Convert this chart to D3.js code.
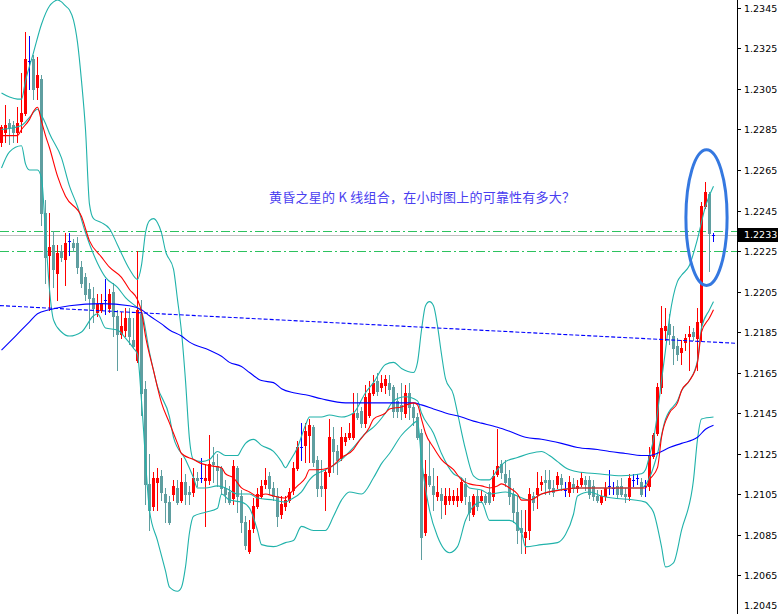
<!DOCTYPE html>
<html><head><meta charset="utf-8">
<script src="https://cdn.jsdelivr.net/npm/d3@7"></script>
<style>body{margin:0;background:#fff}svg{display:block}</style>
</head><body><svg id="c" width="778" height="614"></svg>
<script>
// ---- DATA ----
// [open, high, low, close] per hourly bar
const ohlc = [
[1.2279,1.2287,1.2277,1.2286],[1.2284,1.2297,1.2279,1.2287],[1.2288,1.2290,1.2278,1.2286],[1.2287,1.2289,1.2279,1.2284],
[1.2284,1.2296,1.2279,1.2288],[1.2289,1.2313,1.2284,1.2293],[1.2293,1.2333,1.2292,1.2320],[1.2319,1.2331,1.2305,1.2319],
[1.2320,1.2322,1.2300,1.2305],[1.2306,1.2321,1.2300,1.2312],[1.2310,1.2312,1.2238,1.2244],[1.2244,1.2250,1.2209,1.2222],
[1.2223,1.2244,1.2196,1.2227],[1.2228,1.2235,1.2207,1.2216],[1.2214,1.2228,1.2201,1.2224],[1.2225,1.2228,1.2220,1.2222],
[1.2221,1.2234,1.2208,1.2229],[1.2230,1.2234,1.2223,1.2230],[1.2229,1.2231,1.2225,1.2227],[1.2229,1.2232,1.2214,1.2217],
[1.2217,1.2220,1.2207,1.2209],[1.2212,1.2214,1.2201,1.2204],[1.2206,1.2209,1.2187,1.2202],[1.2202,1.2207,1.2190,1.2197],
[1.2195,1.2204,1.2193,1.2199],[1.2196,1.2204,1.2195,1.2199],[1.2201,1.2211,1.2194,1.2201],[1.2197,1.2206,1.2195,1.2204],
[1.2205,1.2209,1.2183,1.2193],[1.2193,1.2196,1.2166,1.2184],[1.2184,1.2195,1.2182,1.2188],[1.2186,1.2197,1.2183,1.2192],
[1.2192,1.2197,1.2179,1.2183],[1.2181,1.2192,1.2177,1.2178],[1.2171,1.2225,1.2170,1.2196],[1.2194,1.2201,1.2144,1.2155],
[1.2157,1.2161,1.2100,1.2110],[1.2110,1.2125,1.2087,1.2097],[1.2099,1.2116,1.2097,1.2113],[1.2111,1.2118,1.2097,1.2113],
[1.2114,1.2117,1.2102,1.2106],[1.2105,1.2108,1.2091,1.2101],[1.2101,1.2104,1.2090,1.2091],[1.2105,1.2112,1.2102,1.2109],
[1.2108,1.2112,1.2100,1.2101],[1.2102,1.2123,1.2101,1.2111],[1.2111,1.2115,1.2100,1.2105],[1.2106,1.2109,1.2100,1.2105],
[1.2106,1.2118,1.2104,1.2113],[1.2113,1.2116,1.2109,1.2112],[1.2113,1.2123,1.2111,1.2113],[1.2112,1.2120,1.2089,1.2113],
[1.2112,1.2134,1.2110,1.2120],[1.2121,1.2128,1.2111,1.2120],[1.2119,1.2125,1.2109,1.2117],[1.2118,1.2119,1.2105,1.2108],
[1.2108,1.2112,1.2101,1.2105],[1.2106,1.2109,1.2100,1.2101],[1.2103,1.2122,1.2100,1.2119],[1.2118,1.2119,1.2096,1.2104],
[1.2104,1.2107,1.2086,1.2091],[1.2091,1.2094,1.2078,1.2080],[1.2077,1.2092,1.2076,1.2087],[1.2088,1.2103,1.2086,1.2099],
[1.2099,1.2108,1.2098,1.2105],[1.2104,1.2112,1.2103,1.2109],[1.2110,1.2118,1.2108,1.2112],[1.2114,1.2116,1.2105,1.2108],
[1.2108,1.2111,1.2102,1.2104],[1.2104,1.2108,1.2089,1.2094],[1.2095,1.2104,1.2093,1.2100],[1.2099,1.2104,1.2097,1.2102],
[1.2102,1.2108,1.2101,1.2106],[1.2107,1.2121,1.2105,1.2118],[1.2118,1.2131,1.2117,1.2128],[1.2128,1.2140,1.2122,1.2128],
[1.2129,1.2140,1.2121,1.2136],[1.2134,1.2142,1.2121,1.2139],[1.2138,1.2139,1.2119,1.2121],[1.2122,1.2124,1.2104,1.2108],
[1.2109,1.2122,1.2104,1.2108],[1.2108,1.2117,1.2097,1.2116],[1.2116,1.2142,1.2114,1.2133],[1.2132,1.2138,1.2116,1.2126],
[1.2126,1.2129,1.2115,1.2122],[1.2123,1.2138,1.2122,1.2133],[1.2131,1.2135,1.2129,1.2133],[1.2133,1.2140,1.2132,1.2135],
[1.2133,1.2155,1.2132,1.2145],[1.2145,1.2155,1.2142,1.2143],[1.2146,1.2148,1.2138,1.2140],[1.2140,1.2159,1.2138,1.2153],
[1.2144,1.2161,1.2143,1.2155],[1.2155,1.2164,1.2154,1.2160],[1.2161,1.2165,1.2154,1.2156],[1.2158,1.2164,1.2156,1.2160],
[1.2159,1.2164,1.2155,1.2162],[1.2160,1.2164,1.2154,1.2157],[1.2158,1.2159,1.2143,1.2146],[1.2151,1.2155,1.2143,1.2146],
[1.2149,1.2160,1.2142,1.2146],[1.2145,1.2159,1.2143,1.2155],[1.2155,1.2160,1.2142,1.2148],[1.2148,1.2150,1.2139,1.2143],
[1.2143,1.2145,1.2132,1.2133],[1.2135,1.2137,1.2073,1.2084],[1.2086,1.2122,1.2085,1.2115],[1.2114,1.2131,1.2109,1.2110],
[1.2109,1.2118,1.2097,1.2105],[1.2104,1.2114,1.2102,1.2106],[1.2105,1.2108,1.2093,1.2102],[1.2100,1.2108,1.2095,1.2104],
[1.2102,1.2108,1.2100,1.2104],[1.2102,1.2107,1.2100,1.2104],[1.2102,1.2108,1.2099,1.2104],[1.2102,1.2113,1.2101,1.2111],
[1.2110,1.2113,1.2100,1.2104],[1.2101,1.2104,1.2092,1.2096],[1.2095,1.2105,1.2094,1.2104],[1.2104,1.2107,1.2097,1.2099],
[1.2102,1.2107,1.2101,1.2104],[1.2104,1.2105,1.2100,1.2101],[1.2106,1.2110,1.2100,1.2101],[1.2104,1.2117,1.2102,1.2114],
[1.2115,1.2137,1.2114,1.2119],[1.2120,1.2122,1.2113,1.2116],[1.2115,1.2122,1.2109,1.2111],[1.2113,1.2117,1.2100,1.2104],
[1.2105,1.2108,1.2091,1.2096],[1.2096,1.2104,1.2081,1.2087],[1.2088,1.2097,1.2076,1.2086],[1.2084,1.2097,1.2076,1.2086],
[1.2087,1.2108,1.2083,1.2105],[1.2104,1.2106,1.2097,1.2101],[1.2105,1.2116,1.2098,1.2108],[1.2110,1.2114,1.2107,1.2111],
[1.2112,1.2117,1.2105,1.2111],[1.2112,1.2117,1.2105,1.2108],[1.2108,1.2112,1.2104,1.2106],[1.2110,1.2116,1.2108,1.2114],
[1.2113,1.2115,1.2107,1.2110],[1.2107,1.2111,1.2104,1.2107],[1.2106,1.2114,1.2104,1.2111],[1.2110,1.2113,1.2106,1.2108],
[1.2108,1.2112,1.2106,1.2109],[1.2110,1.2116,1.2109,1.2113],[1.2112,1.2114,1.2107,1.2110],[1.2112,1.2114,1.2103,1.2105],
[1.2109,1.2112,1.2102,1.2104],[1.2104,1.2107,1.2101,1.2102],[1.2101,1.2107,1.2100,1.2104],[1.2104,1.2111,1.2102,1.2108],
[1.2109,1.2117,1.2105,1.2109],[1.2108,1.2111,1.2105,1.2108],[1.2109,1.2112,1.2103,1.2105],[1.2109,1.2113,1.2104,1.2105],
[1.2105,1.2108,1.2101,1.2104],[1.2104,1.2115,1.2102,1.2113],[1.2112,1.2115,1.2109,1.2112],[1.2113,1.2115,1.2110,1.2113],
[1.2111,1.2113,1.2104,1.2105],[1.2109,1.2112,1.2104,1.2109],[1.2109,1.2128,1.2107,1.2124],[1.2124,1.2135,1.2123,1.2134],
[1.2135,1.2160,1.2134,1.2158],[1.2158,1.2198,1.2155,1.2187],[1.2186,1.2197,1.2181,1.2188],[1.2189,1.2194,1.2179,1.2184],
[1.2183,1.2188,1.2169,1.2177],[1.2178,1.2182,1.2171,1.2174],[1.2175,1.2181,1.2169,1.2177],[1.2180,1.2184,1.2176,1.2182],
[1.2183,1.2188,1.2166,1.2184],[1.2185,1.2187,1.2181,1.2183],[1.2182,1.2197,1.2166,1.2190],[1.2190,1.2249,1.2181,1.2247],
[1.2247,1.2259,1.2246,1.2254],[1.2253,1.2254,1.2215,1.2234],[1.2233,1.2234,1.2230,1.2233]
];

// indicator readings: [bar index, price]
const bbUpper = [[0,1.2303],[2,1.2301],[4,1.2300],[5,1.2300],[6,1.2309],[8,1.2323],[10,1.2337],[12,1.2346],[13,1.2348],[14,1.2349],[15,1.2348],[16,1.2346],[17,1.2344],[18,1.2339],[19,1.2328],[20,1.2309],[21,1.2285],[22,1.2248],[23,1.2241],[25,1.2239],[27,1.2236],[29,1.2228],[32,1.2216],[34,1.2211],[35,1.2218],[36,1.2234],[37,1.2240],[38,1.2241],[39,1.2239],[40,1.2234],[41,1.2225],[43,1.2216],[44,1.2201],[45,1.2185],[46,1.2161],[47,1.2132],[48,1.2122],[50,1.2121],[52,1.2122],[54,1.2126],[56,1.2124],[59,1.2124],[60,1.2127],[61,1.2130],[63,1.2132],[65,1.2129],[68,1.2126],[70,1.2121],[71,1.2118],[72,1.2121],[74,1.2128],[76,1.2139],[77,1.2143],[80,1.2143],[82,1.2144],[85,1.2143],[88,1.2145],[91,1.2155],[93,1.2160],[96,1.2169],[98,1.2170],[100,1.2167],[103,1.2165],[104,1.2170],[105,1.2186],[106,1.2198],[107,1.2200],[108,1.2198],[109,1.2188],[110,1.2174],[111,1.2162],[113,1.2154],[114,1.2145],[116,1.2127],[118,1.2114],[120,1.2112],[122,1.2112],[124,1.2117],[126,1.2121],[129,1.2123],[132,1.2125],[135,1.2126],[137,1.2124],[139,1.2121],[141,1.2118],[144,1.2116],[149,1.2115],[155,1.2114],[160,1.2115],[161,1.2117],[162,1.2124],[163,1.2132],[164,1.2145],[165,1.2161],[166,1.2176],[167,1.2192],[169,1.2210],[170,1.2213],[172,1.2218],[174,1.2231],[176,1.2247],[178,1.2257]];
const bbMiddle = [[0,1.2285],[5,1.2287],[7,1.2291],[9,1.2295],[10,1.2292],[11,1.2288],[12,1.2283],[15,1.2271],[17,1.2257],[19,1.2247],[21,1.2234],[24,1.2219],[26,1.2212],[29,1.2207],[31,1.2202],[34,1.2197],[35,1.2195],[37,1.2175],[39,1.2158],[42,1.2143],[43,1.2133],[46,1.2122],[48,1.2113],[49,1.2108],[51,1.2108],[54,1.2109],[56,1.2108],[59,1.2105],[62,1.2105],[64,1.2103],[68,1.2102],[71,1.2101],[72,1.2102],[75,1.2106],[77,1.2112],[78,1.2114],[81,1.2117],[85,1.2122],[88,1.2128],[91,1.2135],[93,1.2138],[96,1.2145],[98,1.2151],[101,1.2153],[104,1.2151],[105,1.2145],[108,1.2135],[110,1.2125],[113,1.2115],[115,1.2113],[117,1.2108],[120,1.2107],[122,1.2105],[126,1.2106],[129,1.2104],[132,1.2102],[135,1.2105],[144,1.2108],[160,1.2108],[162,1.2113],[164,1.2125],[166,1.2142],[167,1.2146],[169,1.2151],[170,1.2156],[172,1.2161],[174,1.2171],[175,1.2187],[177,1.2196],[178,1.2200]];
const bbLower = [[0,1.2266],[2,1.2274],[5,1.2277],[6,1.2268],[7,1.2265],[9,1.2265],[10,1.2261],[11,1.2234],[12,1.2206],[13,1.2191],[15,1.2185],[17,1.2183],[20,1.2185],[23,1.2193],[24,1.2194],[26,1.2187],[29,1.2186],[31,1.2182],[33,1.2177],[34,1.2174],[35,1.2151],[37,1.2097],[39,1.2082],[41,1.2067],[42,1.2059],[44,1.2057],[45,1.2059],[46,1.2069],[47,1.2086],[48,1.2094],[51,1.2096],[54,1.2098],[55,1.2105],[57,1.2102],[60,1.2101],[62,1.2098],[64,1.2087],[65,1.2080],[68,1.2079],[71,1.2081],[73,1.2082],[75,1.2089],[78,1.2087],[81,1.2087],[83,1.2094],[85,1.2102],[87,1.2106],[90,1.2105],[93,1.2113],[95,1.2120],[97,1.2125],[100,1.2134],[102,1.2138],[104,1.2141],[105,1.2122],[107,1.2097],[109,1.2084],[112,1.2076],[114,1.2079],[116,1.2092],[118,1.2099],[120,1.2101],[122,1.2092],[127,1.2092],[130,1.2086],[131,1.2079],[135,1.2080],[139,1.2081],[141,1.2085],[143,1.2095],[144,1.2104],[147,1.2106],[150,1.2104],[161,1.2101],[162,1.2099],[163,1.2096],[165,1.2079],[166,1.2069],[168,1.2071],[170,1.2087],[173,1.2112],[174,1.2132],[175,1.2142],[178,1.2143]];
const maFast = [[0,1.2282],[4,1.2282],[5,1.2285],[7,1.2290],[8,1.2294],[9,1.2296],[10,1.2289],[11,1.2282],[12,1.2276],[14,1.2262],[16,1.2252],[20,1.2242],[22,1.2230],[25,1.2222],[27,1.2217],[30,1.2212],[32,1.2206],[34,1.2201],[35,1.2195],[36,1.2183],[38,1.2166],[40,1.2150],[42,1.2140],[44,1.2130],[45,1.2125],[48,1.2122],[50,1.2120],[52,1.2119],[55,1.2118],[56,1.2115],[58,1.2113],[60,1.2108],[62,1.2106],[64,1.2104],[66,1.2105],[68,1.2104],[71,1.2103],[72,1.2105],[74,1.2109],[76,1.2113],[77,1.2117],[79,1.2117],[82,1.2118],[85,1.2123],[88,1.2127],[89,1.2130],[92,1.2138],[93,1.2142],[96,1.2145],[97,1.2147],[100,1.2148],[103,1.2150],[104,1.2149],[105,1.2142],[106,1.2135],[108,1.2128],[110,1.2122],[113,1.2117],[115,1.2112],[117,1.2110],[120,1.2109],[122,1.2108],[124,1.2109],[125,1.2110],[127,1.2108],[129,1.2105],[130,1.2102],[132,1.2102],[135,1.2105],[140,1.2107],[144,1.2108],[148,1.2108],[160,1.2108],[161,1.2108],[162,1.2112],[164,1.2118],[165,1.2133],[167,1.2145],[169,1.2150],[170,1.2156],[172,1.2161],[174,1.2170],[175,1.2185],[177,1.2192],[178,1.2196]];
const maSlow = [[0,1.2176],[2,1.2180],[5,1.2186],[7,1.2190],[9,1.2194],[12,1.2196],[17,1.2198],[25,1.2199],[32,1.2198],[35,1.2196],[37,1.2193],[40,1.2189],[42,1.2186],[45,1.2183],[47,1.2180],[52,1.2176],[55,1.2173],[57,1.2170],[60,1.2168],[62,1.2165],[65,1.2161],[68,1.2160],[70,1.2157],[73,1.2155],[76,1.2154],[80,1.2152],[86,1.2150],[92,1.2150],[103,1.2150],[105,1.2149],[108,1.2147],[111,1.2145],[115,1.2143],[118,1.2141],[120,1.2140],[124,1.2138],[127,1.2136],[131,1.2133],[135,1.2132],[140,1.2130],[144,1.2128],[149,1.2127],[152,1.2126],[156,1.2125],[160,1.2124],[162,1.2124],[165,1.2126],[167,1.2128],[170,1.2130],[174,1.2133],[176,1.2137],[178,1.2139]];

const trendLine = [[0,1.2198],[178,1.2180]];
const levelLines = [1.2235, 1.2225];
const lastPrice = 1.2233;
const yTickLabels = ["1.2045","1.2065","1.2085","1.2105","1.2125","1.2145","1.2165","1.2185","1.2205","1.2225","1.2245","1.2265","1.2285","1.2305","1.2325","1.2345"];
const noteText = "黄昏之星的 K 线组合，在小时图上的可靠性有多大？";
const noteAnchor = [66.9, 1.2249];
const ellipseBars = [171.1, 181.4];
const ellipsePrices = [1.2208, 1.2275];

// ---- CHART ----
const W = 778, H = 614, axisX = 737;
const svg = d3.select("#c");
const x = d3.scaleLinear().domain([0, 178]).range([1.5, 713.5]);
const y = d3.scaleLinear().domain([1.2045, 1.2345]).range([615.5, 8]);

svg.append("rect").attr("width", W).attr("height", H).attr("fill", "#fff");
svg.append("defs").append("clipPath").attr("id", "plot")
  .append("rect").attr("x", 0).attr("y", 0).attr("width", axisX).attr("height", H);
const g = svg.append("g").attr("clip-path", "url(#plot)");

// horizontal levels (behind)
const hg = g.append("g").attr("shape-rendering", "crispEdges");
levelLines.forEach(p => hg.append("line").attr("x1", 0).attr("x2", axisX)
  .attr("y1", Math.round(y(p)) + 0.5).attr("y2", Math.round(y(p)) + 0.5)
  .attr("stroke", "#2dc25f").attr("stroke-width", 1).attr("stroke-dasharray", "9,3,2,3"));
hg.append("line").attr("x1", 0).attr("x2", axisX)
  .attr("y1", Math.round(y(lastPrice)) + 0.5).attr("y2", Math.round(y(lastPrice)) + 0.5)
  .attr("stroke", "#c0c0c0").attr("stroke-width", 1);

// candles
const cg = g.append("g").attr("shape-rendering", "crispEdges");
ohlc.forEach((d, i) => {
  const [o, h, l, c] = d;
  const cx = x(i);
  const col = c > o ? "#ff0000" : (c < o ? "#5f9ea0" : "#0000ff");
  const yh = Math.round(y(h)), yl = Math.round(y(l));
  cg.append("rect").attr("x", cx - 0.5).attr("width", 1)
    .attr("y", yh).attr("height", Math.max(1, yl - yh + 1)).attr("fill", col);
  const yt = Math.round(y(Math.max(o, c))), yb = Math.round(y(Math.min(o, c)));
  cg.append("rect").attr("x", cx - 1.5).attr("width", 3)
    .attr("y", yt).attr("height", Math.max(1, yb - yt + 1)).attr("fill", col);
});

// indicator lines
const line = d3.line().x(d => x(d[0])).y(d => y(d[1])).curve(d3.curveMonotoneX);
const lg = g.append("g").attr("fill", "none");
[[bbUpper, "#20b2aa"], [bbMiddle, "#20b2aa"], [bbLower, "#20b2aa"], [maSlow, "#0000ff"], [maFast, "#ff0000"]]
  .forEach(([data, col]) => lg.append("path").attr("d", line(data)).attr("stroke", col).attr("stroke-width", 1.1));

// trend line (extended ray)
const slope = (trendLine[1][1] - trendLine[0][1]) / (trendLine[1][0] - trendLine[0][0]);
const i0 = x.invert(0), i1 = x.invert(axisX);
g.append("line").attr("x1", 0).attr("x2", axisX)
  .attr("y1", y(trendLine[0][1] + slope * (i0 - trendLine[0][0])))
  .attr("y2", y(trendLine[0][1] + slope * (i1 - trendLine[0][0])))
  .attr("stroke", "#0000ff").attr("stroke-width", 1.1).attr("stroke-dasharray", "4,2");

// annotation text
svg.append("text").attr("x", x(noteAnchor[0])).attr("y", y(noteAnchor[1]))
  .attr("font-family", "'Noto Sans CJK SC', sans-serif").attr("font-size", 13)
  .attr("fill", "#4a3ef0").attr("textLength", 306).attr("lengthAdjust", "spacing")
  .text(noteText);

// ellipse
svg.append("ellipse")
  .attr("cx", (x(ellipseBars[0]) + x(ellipseBars[1])) / 2)
  .attr("cy", (y(ellipsePrices[0]) + y(ellipsePrices[1])) / 2)
  .attr("rx", (x(ellipseBars[1]) - x(ellipseBars[0])) / 2)
  .attr("ry", (y(ellipsePrices[0]) - y(ellipsePrices[1])) / 2)
  .attr("fill", "none").attr("stroke", "#3578e0").attr("stroke-width", 3);

// price axis
svg.append("line").attr("x1", axisX + 0.5).attr("x2", axisX + 0.5).attr("y1", 0).attr("y2", H)
  .attr("stroke", "#000").attr("stroke-width", 1);
const ax = svg.append("g");
yTickLabels.forEach(t => {
  const yy = Math.round(y(+t)) + 0.5;
  ax.append("line").attr("x1", axisX).attr("x2", axisX + 4).attr("y1", yy).attr("y2", yy).attr("stroke", "#000");
  ax.append("text").attr("x", 744).attr("y", Math.min(yy, 606)).attr("dy", "0.35em")
    .attr("font-family", "'DejaVu Sans', sans-serif").attr("font-size", 9.5).attr("fill", "#000").text(t);
});
const ly = Math.round(y(lastPrice));
svg.append("rect").attr("x", axisX + 1).attr("y", ly - 7).attr("width", W - axisX - 1).attr("height", 14).attr("fill", "#000");
svg.append("text").attr("x", 744).attr("y", ly).attr("dy", "0.35em")
  .attr("font-family", "'DejaVu Sans', sans-serif").attr("font-size", 9.5).attr("fill", "#fff").text(d3.format(".4f")(lastPrice));
</script></body></html>
